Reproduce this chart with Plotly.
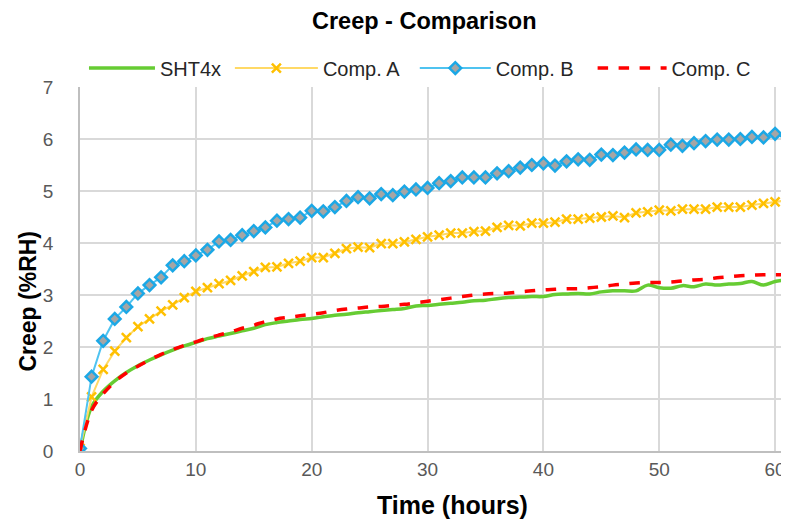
import plotly.graph_objects as go

hours = list(range(0, 62))

sht4x = [0.0, 0.85, 1.15, 1.35, 1.51, 1.64, 1.75, 1.85, 1.94, 2.02, 2.09, 2.16, 2.21, 2.26, 2.31, 2.36,
         2.43, 2.47, 2.50, 2.53, 2.55, 2.58, 2.61, 2.63, 2.66, 2.68, 2.70, 2.72, 2.74, 2.79, 2.80, 2.82,
         2.84, 2.86, 2.89, 2.90, 2.93, 2.95, 2.96, 2.97, 2.97, 3.01, 3.02, 3.03, 3.02, 3.06, 3.08, 3.08,
         3.08, 3.19, 3.14, 3.13, 3.18, 3.16, 3.21, 3.19, 3.21, 3.22, 3.26, 3.19, 3.26, 3.29]

comp_a = [0.05, 1.04, 1.57, 1.92, 2.18, 2.39, 2.54, 2.69, 2.81, 2.95, 3.07, 3.14, 3.22, 3.28, 3.37, 3.45,
          3.53, 3.54, 3.61, 3.65, 3.72, 3.72, 3.80, 3.89, 3.92, 3.91, 3.99, 3.99, 4.02, 4.07, 4.12, 4.15,
          4.19, 4.19, 4.22, 4.23, 4.30, 4.34, 4.33, 4.38, 4.38, 4.40, 4.46, 4.46, 4.48, 4.50, 4.52, 4.49,
          4.58, 4.60, 4.63, 4.62, 4.65, 4.65, 4.65, 4.69, 4.69, 4.69, 4.73, 4.76, 4.79, 4.82]

comp_b = [0.05, 1.43, 2.12, 2.54, 2.77, 3.03, 3.19, 3.34, 3.57, 3.65, 3.76, 3.87, 4.03, 4.06, 4.15, 4.23,
          4.30, 4.43, 4.46, 4.49, 4.62, 4.61, 4.69, 4.81, 4.88, 4.86, 4.94, 4.92, 4.99, 5.03, 5.06, 5.15,
          5.19, 5.26, 5.26, 5.26, 5.34, 5.38, 5.45, 5.50, 5.53, 5.49, 5.57, 5.61, 5.60, 5.70, 5.69, 5.74,
          5.80, 5.79, 5.79, 5.89, 5.87, 5.92, 5.96, 5.99, 5.99, 6.00, 6.04, 6.03, 6.10, 6.06]

comp_c = [0.0, 0.78, 1.10, 1.33, 1.50, 1.63, 1.75, 1.86, 1.95, 2.03, 2.10, 2.17, 2.23, 2.29, 2.36, 2.42,
          2.49, 2.54, 2.57, 2.60, 2.63, 2.66, 2.70, 2.73, 2.75, 2.77, 2.78, 2.80, 2.82, 2.85, 2.88, 2.91,
          2.94, 2.97, 3.00, 3.02, 3.03, 3.04, 3.06, 3.08, 3.10, 3.11, 3.12, 3.12, 3.14, 3.16, 3.19, 3.21,
          3.23, 3.24, 3.24, 3.25, 3.27, 3.29, 3.30, 3.33, 3.35, 3.37, 3.38, 3.39, 3.39, 3.39]

FONT = "Liberation Sans, Arial, sans-serif"

fig = go.Figure()
fig.add_trace(go.Scatter(x=hours, y=sht4x, name="SHT4x", mode="lines", legend="legend",
                         line=dict(color="#66CC33", width=3.5), line_shape="spline"))
fig.add_trace(go.Scatter(x=hours, y=comp_a, name="Comp. A", mode="lines+markers", legend="legend2",
                         line=dict(color="#FFD966", width=2),
                         marker=dict(symbol="x-thin", size=9, color="#FFC000",
                                     line=dict(color="#FFC000", width=2.5))))
fig.add_trace(go.Scatter(x=hours, y=comp_b, name="Comp. B", mode="lines+markers", legend="legend3",
                         line=dict(color="#4FC3F0", width=2),
                         marker=dict(symbol="diamond", size=9, color="#A5A5A5",
                                     line=dict(color="#1BA8E6", width=2.5))))
fig.add_trace(go.Scatter(x=hours, y=comp_c, name="Comp. C", mode="lines", legend="legend4",
                         line=dict(color="#FF0000", width=3.5, dash="dash"), line_shape="spline"))


def leg(x, iw):
    return dict(orientation="h", x=x, xanchor="left", y=1.052, yanchor="middle",
                font=dict(family=FONT, size=20, color="#262626"),
                itemwidth=iw, bgcolor="rgba(0,0,0,0)")


fig.update_layout(
    width=781, height=515,
    paper_bgcolor="white", plot_bgcolor="white",
    margin=dict(l=71.5, r=0, t=79, b=72),
    font=dict(family=FONT, color="#595959"),
    title=dict(text="<b>Creep - Comparison</b>", x=0.533, xanchor="center", y=0.975, yanchor="middle",
               font=dict(family=FONT, size=23.5, color="black")),
    legend=leg(0.0056, 66),
    legend2=leg(0.2114, 83),
    legend3=leg(0.4722, 71),
    legend4=leg(0.7230, 69),
    showlegend=True,
    annotations=[
        dict(text="<b>Creep (%RH)</b>", xref="paper", yref="paper", x=-0.0726, y=0.412,
             textangle=-90, showarrow=False, xanchor="center", yanchor="middle",
             font=dict(family=FONT, size=23, color="black")),
        dict(text="<b>Time (hours)</b>", xref="paper", yref="paper", x=0.526, y=-0.148,
             showarrow=False, xanchor="center", yanchor="middle",
             font=dict(family=FONT, size=25, color="black")),
    ],
)
fig.update_xaxes(range=[0, 61.2], dtick=10, tick0=0, showgrid=True, gridcolor="#D9D9D9", gridwidth=1.5,
                 showline=True, linecolor="#BFBFBF", linewidth=1.5, zeroline=False, automargin=False,
                 tickfont=dict(family=FONT, size=19, color="#595959"), ticks="", ticklabelstandoff=0)
fig.update_yaxes(range=[0, 7], dtick=1, showgrid=True, gridcolor="#D9D9D9", gridwidth=1.5,
                 showline=True, linecolor="#BFBFBF", linewidth=1.5, zeroline=False, automargin=False,
                 tickfont=dict(family=FONT, size=19, color="#595959"), ticks="", ticklabelstandoff=21)

fig.write_html("out.html")
